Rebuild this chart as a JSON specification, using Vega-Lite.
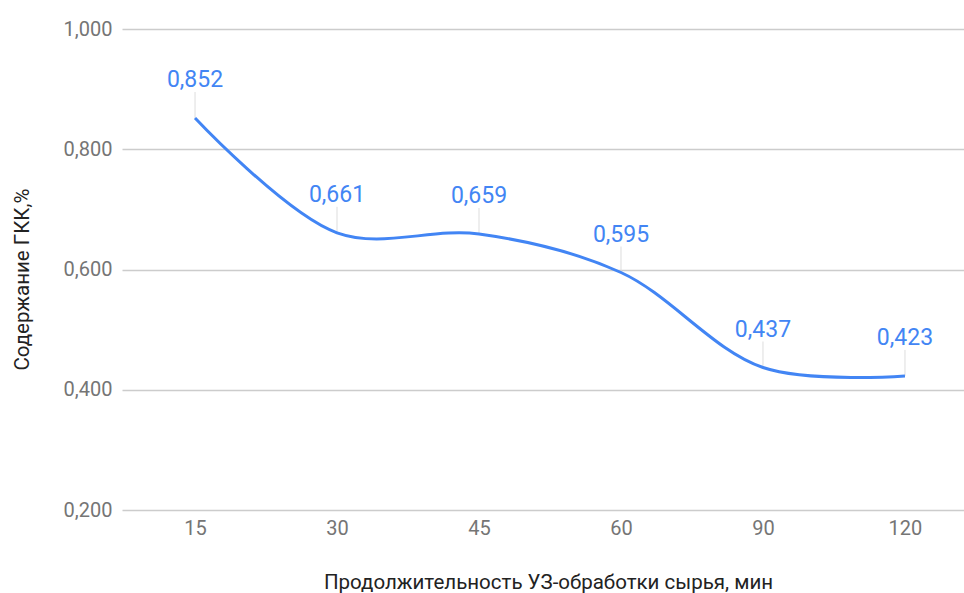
{
  "$schema": "https://vega.github.io/schema/vega-lite/v6.json",
  "width": 842,
  "height": 481,
  "autosize": "none",
  "padding": {"left": 122, "top": 29, "right": 0, "bottom": 83},
  "background": "white",
  "config": {
    "font": "Roboto",
    "view": {"stroke": null},
    "locale": {
      "number": {"decimal": ",", "thousands": "\u00a0", "grouping": [3], "currency": ["", ""]}
    }
  },
  "data": {
    "values": [
      {"t": "15", "v": 0.852},
      {"t": "30", "v": 0.661},
      {"t": "45", "v": 0.659},
      {"t": "60", "v": 0.595},
      {"t": "90", "v": 0.437},
      {"t": "120", "v": 0.423}
    ]
  },
  "encoding": {
    "x": {
      "field": "t",
      "type": "ordinal",
      "sort": null,
      "scale": {"type": "point", "padding": 0.465, "align": 0.553},
      "axis": {
        "title": "Продолжительность УЗ-обработки сырья, мин",
        "labelAngle": 0,
        "labelFontSize": 20,
        "labelColor": "#757575",
        "labelPadding": 8,
        "domain": false,
        "ticks": false,
        "grid": false,
        "titleFontSize": 20.5,
        "titleFontWeight": "normal",
        "titleColor": "#222222",
        "titleBaseline": "alphabetic",
        "titleY": 78,
        "titleX": 426
      }
    },
    "y": {
      "field": "v",
      "type": "quantitative",
      "scale": {"domain": [0.2, 1.0], "nice": false, "zero": false},
      "axis": {
        "title": "Содержание ГКК,%",
        "values": [0.2, 0.4, 0.6, 0.8, 1.0],
        "format": ".3f",
        "labelFontSize": 20,
        "labelColor": "#757575",
        "labelPadding": 10,
        "domain": false,
        "ticks": false,
        "gridColor": "#cccccc",
        "gridWidth": 1.5,
        "titleFontSize": 20.5,
        "titleFontWeight": "normal",
        "titleColor": "#222222",
        "titleBaseline": "alphabetic",
        "titleAngle": -90,
        "titleX": -94,
        "titleY": 250
      }
    }
  },
  "layer": [
    {
      "mark": {"type": "rule", "color": "#dddddd", "strokeWidth": 1, "y2Offset": -26},
      "encoding": {"y2": {"field": "v"}}
    },
    {
      "mark": {"type": "line", "interpolate": "catmull-rom", "color": "#4285F4", "strokeWidth": 3}
    },
    {
      "mark": {"type": "text", "color": "#4285F4", "fontSize": 23, "baseline": "alphabetic", "align": "center", "dy": -31},
      "encoding": {
        "text": {"field": "v", "type": "quantitative", "format": ".3f"}
      }
    }
  ]
}
